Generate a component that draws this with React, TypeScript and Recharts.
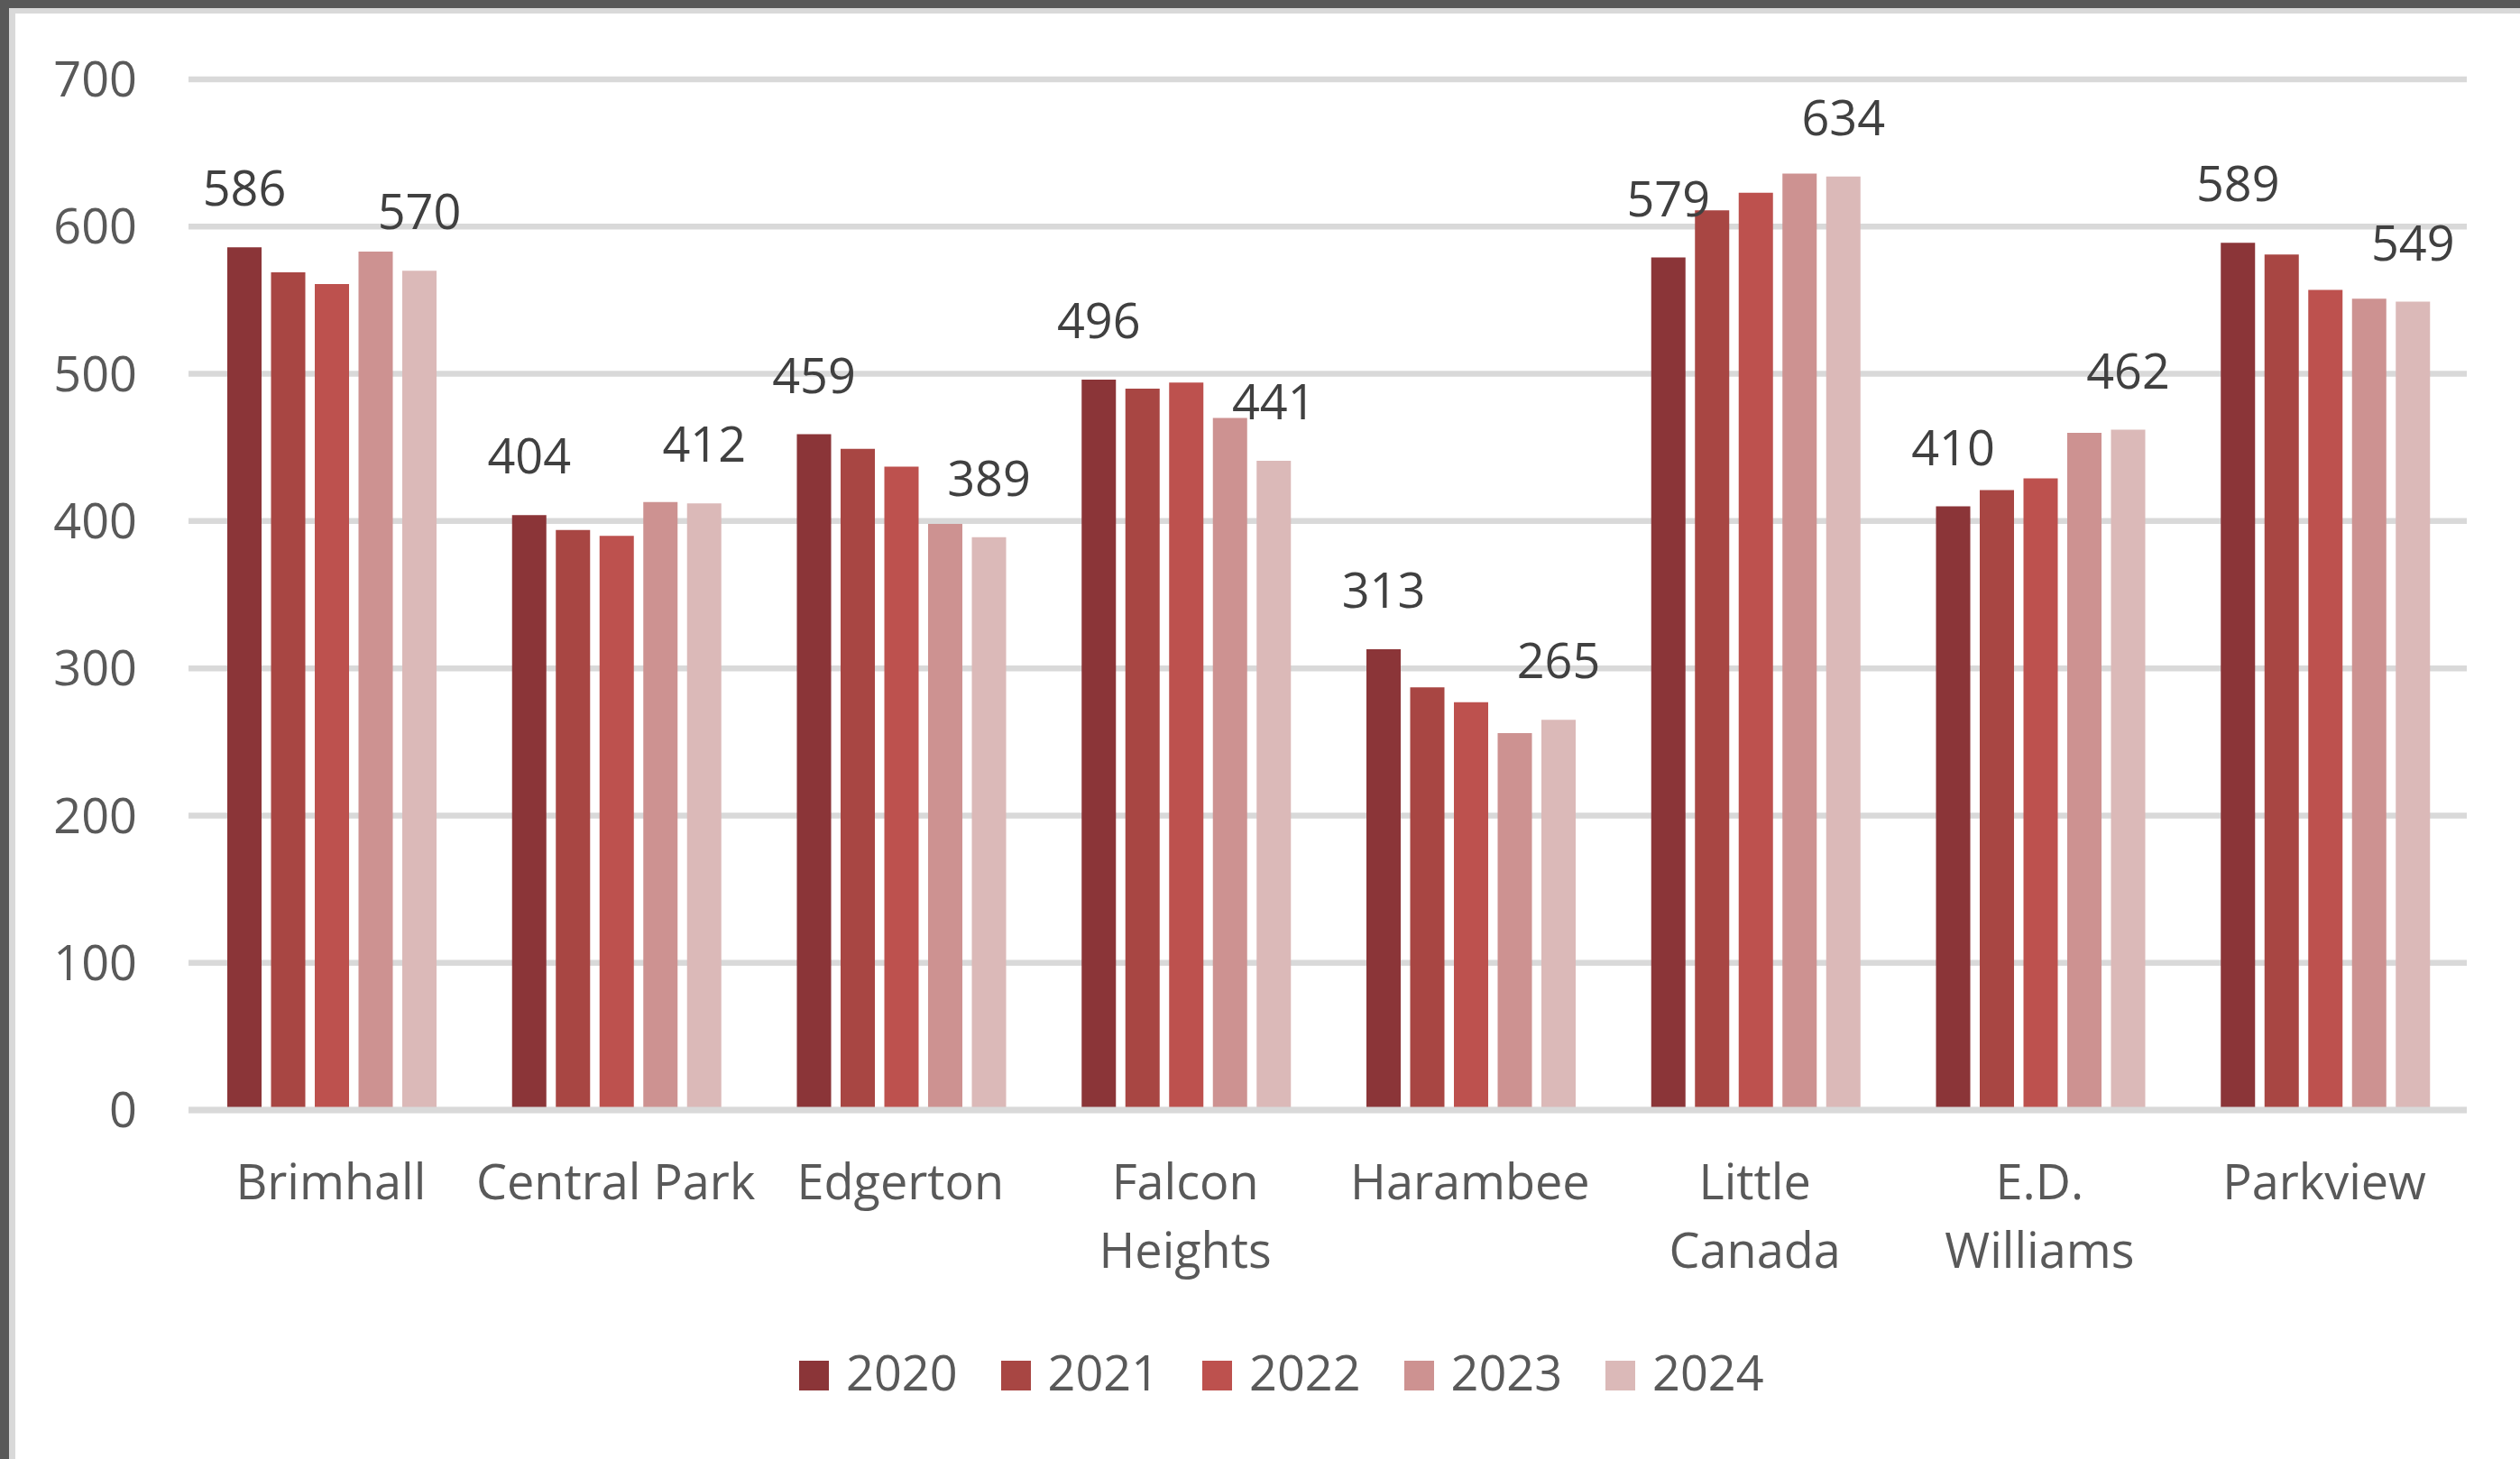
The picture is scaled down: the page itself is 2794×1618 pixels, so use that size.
import React from 'react';
import { BarChart, Bar, XAxis, YAxis, CartesianGrid, Legend, LabelList } from 'recharts';

const categories = ['Brimhall', 'Central Park', 'Edgerton', 'Falcon Heights', 'Harambee', 'Little Canada', 'E.D. Williams', 'Parkview'];
const tickLines = [['Brimhall'], ['Central Park'], ['Edgerton'], ['Falcon', 'Heights'], ['Harambee'], ['Little', 'Canada'], ['E.D.', 'Williams'], ['Parkview']];
const years = ['2020', '2021', '2022', '2023', '2024'];
const labeledYears = ['2020', '2024'];

const values2020 = [586, 404, 459, 496, 313, 579, 410, 589];
const values2021 = [569, 394, 449, 490, 287, 611, 421, 581];
const values2022 = [561, 390, 437, 494, 277, 623, 429, 557];
const values2023 = [583, 413, 398, 470, 256, 636, 460, 551];
const values2024 = [570, 412, 389, 441, 265, 634, 462, 549];

const yTicks = [0, 100, 200, 300, 400, 500, 600, 700];
const colors = ['#8B3538', '#A84643', '#BD514E', '#CD9291', '#DBB9B8'];

const FONT = '"Open Sans", "Noto Sans", sans-serif';
const AXIS_TEXT = '#595959';
const LABEL_TEXT = '#404040';

const seriesValues = [values2020, values2021, values2022, values2023, values2024];
const data = categories.map((name, i) => {
  const row: Record<string, string | number> = { name };
  years.forEach((y, s) => {
    row[y] = seriesValues[s][i];
  });
  return row;
});

const CategoryTick = (props: any) => {
  const { x, y, payload } = props;
  const idx = categories.indexOf(payload.value);
  const lines = tickLines[idx] || [payload.value];
  return (
    <text x={x} y={y} textAnchor="middle" fill={AXIS_TEXT} fontSize={54} fontFamily={FONT}>
      {lines.map((line, i) => (
        <tspan key={i} x={x} dy={i === 0 ? 99 : 75.5}>
          {line}
        </tspan>
      ))}
    </text>
  );
};

const renderLegend = (props: any) => {
  const { payload } = props;
  return (
    <div style={{ display: 'flex', alignItems: 'center', height: 60, paddingLeft: 886 }}>
      {(payload || []).map((entry: any) => (
        <div key={entry.value} style={{ display: 'flex', alignItems: 'center', marginRight: 48 }}>
          <span style={{ display: 'inline-block', width: 33, height: 33, background: entry.color, marginRight: 19 }} />
          <span style={{ fontFamily: FONT, fontSize: 54, lineHeight: '60px', color: AXIS_TEXT, position: 'relative', top: -4 }}>
            {entry.value}
          </span>
        </div>
      ))}
    </div>
  );
};

const App = () => {
  return (
    <div style={{ position: 'fixed', left: 0, top: 0, width: 2794, height: 1618, background: '#595959', overflow: 'hidden' }}>
      {/* chart frame, cropped at the top-left */}
      <div style={{ position: 'absolute', left: 10, top: 9, right: 0, bottom: 0, background: '#D9D9D9' }} />
      <div style={{ position: 'absolute', left: 17, top: 15, right: 0, bottom: 0, background: '#FFFFFF' }} />
      <div style={{ position: 'absolute', left: 0, top: 0 }}>
        <BarChart
          width={2794}
          height={1618}
          data={data}
          margin={{ top: 88, right: 59, bottom: 127, left: 0 }}
          barCategoryGap={43}
          barGap={10.5}
        >
          <CartesianGrid vertical={false} stroke="#D9D9D9" strokeWidth={6.5} />
          <YAxis
            width={209}
            domain={[0, 700]}
            ticks={yTicks}
            interval={0}
            axisLine={false}
            tickLine={false}
            tickSize={0}
            tickMargin={57}
            tick={{ fill: AXIS_TEXT, fontSize: 54, fontFamily: FONT }}
          />
          {years.map((year, s) => (
            <Bar key={year} dataKey={year} name={year} fill={colors[s]} isAnimationActive={false}>
              {labeledYears.includes(year) && (
                <LabelList dataKey={year} position="top" offset={46} fill={LABEL_TEXT} fontSize={54} fontFamily={FONT} />
              )}
            </Bar>
          ))}
          <XAxis
            dataKey="name"
            height={200}
            interval={0}
            axisLine={{ stroke: '#D9D9D9', strokeWidth: 7 }}
            tickLine={false}
            tickSize={0}
            tickMargin={0}
            tick={<CategoryTick />}
          />
          <Legend
            content={renderLegend}
            height={60}
            verticalAlign="bottom"
            wrapperStyle={{ left: 0, top: 1495, bottom: 'auto', width: 2794 }}
          />
        </BarChart>
      </div>
    </div>
  );
};

export default App;
